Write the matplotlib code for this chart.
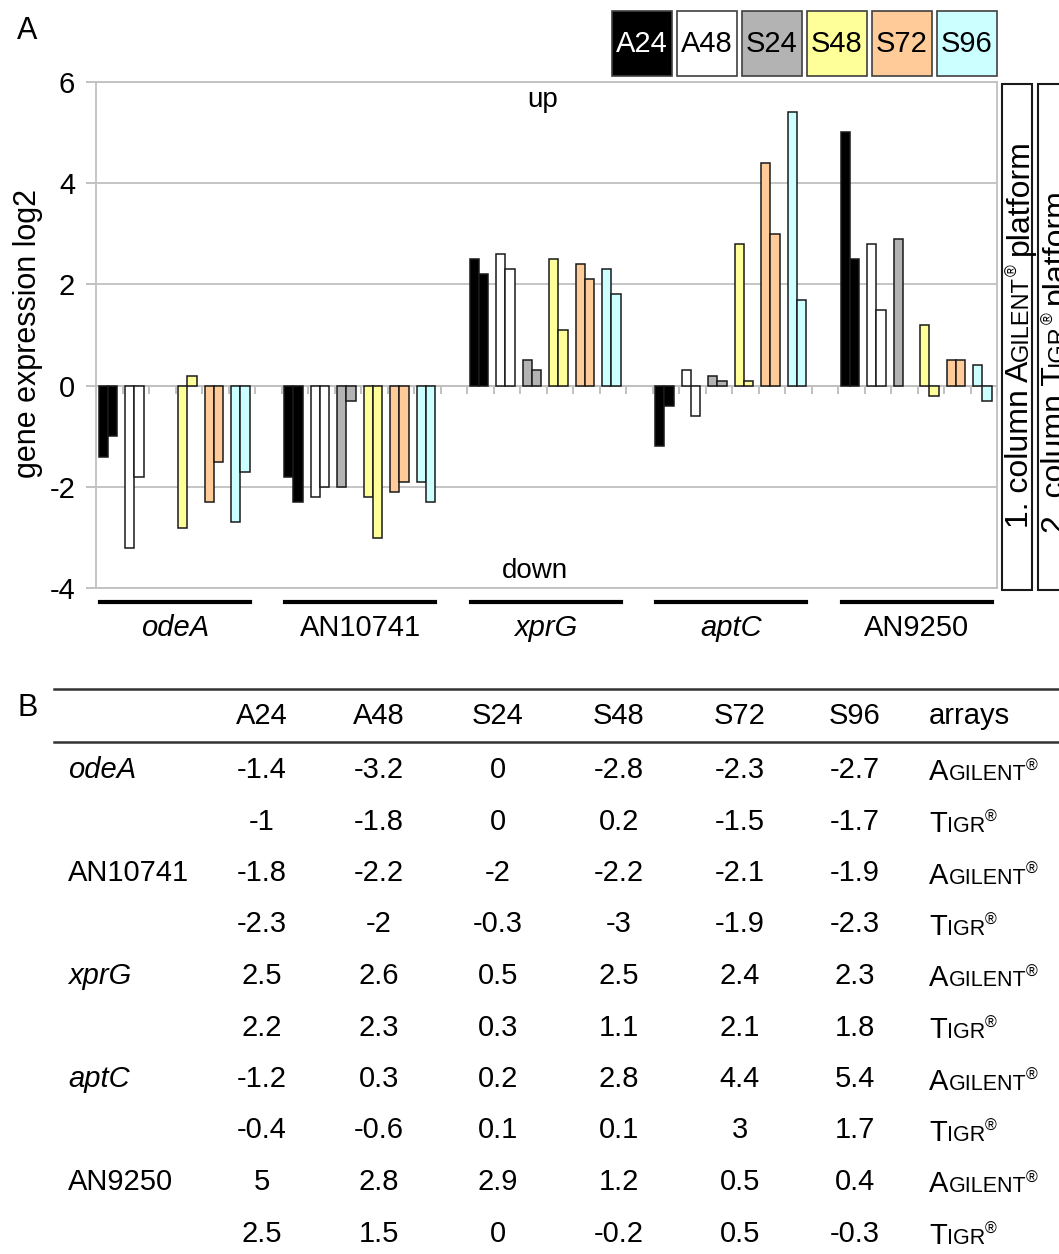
import matplotlib
matplotlib.use("Agg")
import matplotlib.pyplot as plt
import numpy as np
from matplotlib.patches import Rectangle
from matplotlib.lines import Line2D
from matplotlib.transforms import IdentityTransform

# ---------------------------------------------------------------- data
samples = ["A24", "A48", "S24", "S48", "S72", "S96"]
genes = ["odeA", "AN10741", "xprG", "aptC", "AN9250"]
gene_italic = [True, False, True, True, False]

# log2 expression, AGILENT platform (first column of each pair)
agilent_odeA = [-1.4, -3.2, 0, -2.8, -2.3, -2.7]
agilent_AN10741 = [-1.8, -2.2, -2, -2.2, -2.1, -1.9]
agilent_xprG = [2.5, 2.6, 0.5, 2.5, 2.4, 2.3]
agilent_aptC = [-1.2, 0.3, 0.2, 2.8, 4.4, 5.4]
agilent_AN9250 = [5, 2.8, 2.9, 1.2, 0.5, 0.4]

# log2 expression, TIGR platform (second column of each pair)
tigr_odeA = [-1, -1.8, 0, 0.2, -1.5, -1.7]
tigr_AN10741 = [-2.3, -2, -0.3, -3, -1.9, -2.3]
tigr_xprG = [2.2, 2.3, 0.3, 1.1, 2.1, 1.8]
tigr_aptC = [-0.4, -0.6, 0.1, 0.1, 3, 1.7]
tigr_AN9250 = [2.5, 1.5, 0, -0.2, 0.5, -0.3]

# table cell text, as printed
table_agilent = [["-1.4", "-3.2", "0", "-2.8", "-2.3", "-2.7"],
                 ["-1.8", "-2.2", "-2", "-2.2", "-2.1", "-1.9"],
                 ["2.5", "2.6", "0.5", "2.5", "2.4", "2.3"],
                 ["-1.2", "0.3", "0.2", "2.8", "4.4", "5.4"],
                 ["5", "2.8", "2.9", "1.2", "0.5", "0.4"]]
table_tigr = [["-1", "-1.8", "0", "0.2", "-1.5", "-1.7"],
              ["-2.3", "-2", "-0.3", "-3", "-1.9", "-2.3"],
              ["2.2", "2.3", "0.3", "1.1", "2.1", "1.8"],
              ["-0.4", "-0.6", "0.1", "0.1", "3", "1.7"],
              ["2.5", "1.5", "0", "-0.2", "0.5", "-0.3"]]

sample_colors = ["#000000", "#ffffff", "#b3b3b3", "#ffff99", "#ffcc99", "#ccffff"]

agilent = [agilent_odeA, agilent_AN10741, agilent_xprG, agilent_aptC, agilent_AN9250]
tigr = [tigr_odeA, tigr_AN10741, tigr_xprG, tigr_aptC, tigr_AN9250]

# ---------------------------------------------------------------- figure
W, H, DPI = 1059, 1254, 100
FONT = "Liberation Sans"
plt.rcParams["font.family"] = [FONT, "DejaVu Sans"]
plt.rcParams["axes.unicode_minus"] = False
fig = plt.figure(figsize=(W / DPI, H / DPI), dpi=DPI)
fig.patch.set_facecolor("white")
renderer = fig.canvas.get_renderer()
PIX = IdentityTransform()


def fx(x):
    return x / W


def fy(y):
    return 1 - y / H


def text_w(s, size, style="normal"):
    a = fig.text(0, 0, "|" + s + "|", fontsize=size, fontstyle=style)
    b = fig.text(0, 0, "||", fontsize=size, fontstyle=style)
    w = a.get_window_extent(renderer).width - b.get_window_extent(renderer).width
    a.remove()
    b.remove()
    return w


def draw_runs(x, y, runs, rotation=0):
    """Draw consecutive pieces of text of mixed size (small caps, superscripts).
    x, y are pixel coordinates (top-left origin) of the baseline start."""
    X, Y = x, H - y
    off = 0.0
    for s, size, rise in runs:
        if s.strip():
            if rotation == 0:
                fig.text(X + off, Y + rise, s, fontsize=size, transform=PIX,
                         ha="left", va="baseline")
            else:
                fig.text(X - rise, Y + off, s, fontsize=size, transform=PIX,
                         rotation=90, rotation_mode="anchor",
                         ha="left", va="baseline")
        off += text_w(s, size)


# ---------------------------------------------------------------- bar chart
ax = fig.add_axes([fx(96), fy(588.3), fx(997) - fx(96), fy(81.7) - fy(588.3)])

n_groups, n_samp = len(genes), len(samples)
slot = n_samp + 1                       # one empty category between genes
n_cat = n_groups * slot - 1
bar_w = 0.35
centre = 0.45

cats = np.array([g * slot + s for g in range(n_groups) for s in range(n_samp)], float)
ag_vals = np.array(agilent, float).ravel()
ti_vals = np.array(tigr, float).ravel()
cols = sample_colors * n_groups

for xs, vals in ((cats + centre - bar_w / 2, ag_vals), (cats + centre + bar_w / 2, ti_vals)):
    lws = [0 if v == 0 else 1.1 for v in vals]
    ax.bar(xs, vals, width=bar_w, color=cols, edgecolor="#1a1a1a",
           linewidth=lws, zorder=3)

grid_c = "#c0c0c0"
ax.set_xlim(0, n_cat)
ax.set_ylim(-4, 6)
ax.set_yticks([-4, -2, 0, 2, 4, 6])
ax.yaxis.grid(True, color=grid_c, linewidth=1.3)
ax.set_axisbelow(True)
for sp in ax.spines.values():
    sp.set_color(grid_c)
    sp.set_linewidth(1.3)
ax.spines["bottom"].set_position(("data", 0))
ax.axhline(-4, color=grid_c, linewidth=1.3, clip_on=False, zorder=1)
ax.set_xticks(np.arange(0, n_cat + 1))
ax.tick_params(axis="x", direction="out", length=6, width=1.1, color="#b0b0b0",
               labelbottom=False)
ax.tick_params(axis="y", direction="out", length=7, width=1.1, color="#b0b0b0",
               labelsize=21, pad=8)
for lab in ax.get_yticklabels():
    lab.set_fontfamily(FONT)

ax.text(0.496, 0.964, "up", transform=ax.transAxes, fontsize=20,
        ha="center", va="center")
ax.text(0.487, 0.034, "down", transform=ax.transAxes, fontsize=20,
        ha="center", va="center")

# gene labels with bars underneath
xt = ax.get_xaxis_transform()
for g, (name, it) in enumerate(zip(genes, gene_italic)):
    x0, x1 = g * slot + 0.14, g * slot + 5.8
    ax.add_line(Line2D([x0, x1], [-0.027, -0.027], transform=xt, color="black",
                       linewidth=3, clip_on=False))
    ax.text((x0 + x1) / 2, -0.079, name, transform=xt, fontsize=21,
            fontstyle="italic" if it else "normal", ha="center", va="center",
            clip_on=False)

fig.text(fx(28), fy(333), "gene expression log2", rotation=90, fontsize=22,
         ha="center", va="center")
fig.text(fx(27), fy(31), "A", fontsize=22, ha="center", va="center")

# colour key at top
for i, (s, c) in enumerate(zip(samples, sample_colors)):
    x0 = 612 + i * 65
    fig.add_artist(Rectangle((fx(x0), fy(76)), fx(60), 65 / H,
                             transform=fig.transFigure, facecolor=c,
                             edgecolor="#404040", linewidth=1.2))
    fig.text(fx(x0 + 30), fy(43.5), s, fontsize=21, ha="center", va="center",
             color="white" if c == "#000000" else "black")

# platform boxes on the right
for bx0, bx1 in ((1002, 1032), (1038, 1080)):
    fig.add_artist(Rectangle((fx(bx0), fy(590)), fx(bx1 - bx0), 506 / H,
                             transform=fig.transFigure, facecolor="white",
                             edgecolor="#1a1a1a", linewidth=1.5))
BIG, SC, SUP = 23, 17, 11.5
draw_runs(1028, 528, [("1. column A", BIG, 0), ("GILENT", SC, 0), ("®", SUP, 10),
                      (" ", BIG, 0), ("platform", BIG, 0)], rotation=90)
draw_runs(1064, 533, [("2. column T", BIG, 0), ("IGR", SC, 0), ("®", SUP, 10),
                      (" ", BIG, 0), ("platform", BIG, 0)], rotation=90)

# ---------------------------------------------------------------- table B
fig.text(fx(28), fy(708), "B", fontsize=22, ha="center", va="center")
for yl in (689, 742):
    fig.add_artist(Line2D([fx(54), fx(1059)], [fy(yl), fy(yl)],
                          transform=fig.transFigure, color="#333333", linewidth=1.8))

col_x = [262, 379, 498, 619, 740, 855]
TS = 21
for s, x in zip(samples, col_x):
    fig.text(fx(x), fy(716), s, fontsize=TS, ha="center", va="center")
fig.text(fx(929), fy(716), "arrays", fontsize=TS, ha="left", va="center")

row_y0, row_dy = 770, 51.5
for g, name in enumerate(genes):
    for k, (cells, plat) in enumerate(((table_agilent[g], "A"), (table_tigr[g], "T"))):
        y = row_y0 + (2 * g + k) * row_dy
        if k == 0:
            fig.text(fx(68), fy(y), name, fontsize=TS, ha="left", va="center",
                     fontstyle="italic" if gene_italic[g] else "normal")
        for v, x in zip(cells, col_x):
            fig.text(fx(x), fy(y), v, fontsize=TS, ha="center", va="center")
        base = y + 10.5
        if plat == "A":
            draw_runs(929, base, [("A", TS, 0), ("GILENT", 15.5, 0), ("®", 11.5, 10)])
        else:
            draw_runs(929, base, [("T", TS, 0), ("IGR", 15.5, 0), ("®", 11.5, 10)])

fig.savefig("out.png", dpi=DPI, facecolor="white")
